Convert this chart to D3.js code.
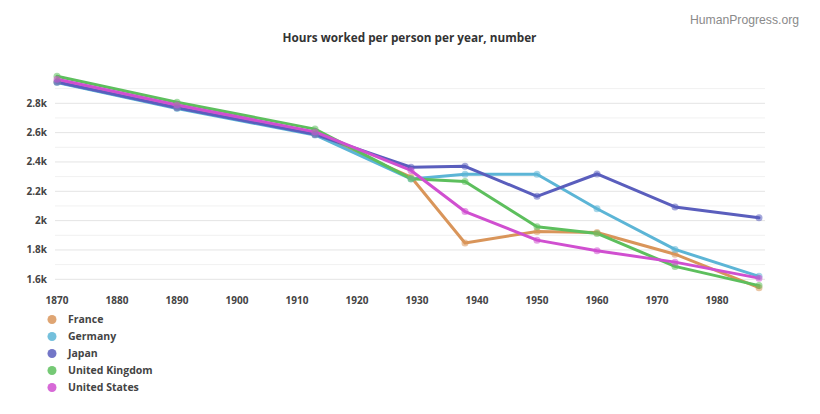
<!DOCTYPE html>
<html><head><meta charset="utf-8">
<script src="https://cdn.jsdelivr.net/npm/d3@7"></script>
<style>body{margin:0;background:#fff;font-family:"Open Sans",sans-serif;}</style>
</head><body>
<svg id="c" width="820" height="414"></svg>
<script>
const years = [1870, 1890, 1913, 1929, 1938, 1950, 1960, 1973, 1987];
const france = [2945, 2770, 2588, 2297, 1848, 1926, 1919, 1771, 1543];
const germany = [2941, 2765, 2584, 2284, 2316, 2316, 2081, 1804, 1620];
const japan = [2945, 2770, 2588, 2364, 2370, 2166, 2318, 2093, 2020];
const uk = [2984, 2807, 2624, 2286, 2267, 1958, 1913, 1688, 1557];
const us = [2964, 2789, 2605, 2342, 2062, 1867, 1795, 1717, 1608];
const seriesNames = ["France", "Germany", "Japan", "United Kingdom", "United States"];
const seriesColors = ["#d9955a", "#5cb5d6", "#5a5ebd", "#5dbf5d", "#d04fd0"];
const xTicks = [1870, 1880, 1890, 1900, 1910, 1920, 1930, 1940, 1950, 1960, 1970, 1980];
const yTicks = [1600, 1800, 2000, 2200, 2400, 2600, 2800];
const yMinor = [1700, 1900, 2100, 2300, 2500, 2700, 2900];
const title = "Hours worked per person per year, number";
const credit = "HumanProgress.org";

const svg = d3.select("#c");
const x = d3.scaleLinear().domain([1870, 1980]).range([57, 717]);
const y = d3.scaleLinear().domain([1600, 2800]).range([279.3, 103.3]);
const series = [france, germany, japan, uk, us].map((v, i) => ({name: seriesNames[i], color: seriesColors[i], values: v}));

// grid
svg.append("g").selectAll("line").data(yMinor).join("line")
  .attr("x1", 55).attr("x2", 765).attr("y1", d => y(d)).attr("y2", d => y(d))
  .attr("stroke", "#f1f1f1").attr("stroke-width", 1);
svg.append("g").selectAll("line").data(yTicks).join("line")
  .attr("x1", 55).attr("x2", 765).attr("y1", d => y(d)).attr("y2", d => y(d))
  .attr("stroke", "#e4e4e4").attr("stroke-width", 1);

// y labels
svg.append("g").selectAll("text").data(yTicks).join("text")
  .attr("x", 47).attr("y", d => y(d)).attr("dy", "0.35em").attr("text-anchor", "end")
  .attr("font-size", 10).attr("font-weight", 700).attr("fill", "#444")
  .text(d => d === 2000 ? "2k" : (d / 1000) + "k");

// x labels
svg.append("g").selectAll("text").data(xTicks).join("text")
  .attr("x", d => x(d)).attr("y", 300).attr("dy", "0.35em").attr("text-anchor", "middle")
  .attr("font-size", 10).attr("font-weight", 700).attr("fill", "#444")
  .text(d => d);

// lines
const line = d3.line().x((d, i) => x(years[i])).y(d => y(d));
const g = svg.append("g");
series.forEach(s => {
  g.append("path").datum(s.values).attr("d", line).attr("fill", "none")
    .attr("stroke", s.color).attr("stroke-width", 3).attr("stroke-linejoin", "round").attr("stroke-linecap", "round");
});
series.forEach(s => {
  g.append("g").selectAll("circle").data(s.values).join("circle")
    .attr("cx", (d, i) => x(years[i])).attr("cy", d => y(d)).attr("r", 3.5)
    .attr("fill", s.color).attr("fill-opacity", 0.55);
});

// title & credit
svg.append("text").attr("x", 409.5).attr("y", 37.5).attr("dy", "0.35em").attr("text-anchor", "middle")
  .attr("font-size", 11.75).attr("font-weight", 700).attr("fill", "#333").text(title);
svg.append("text").attr("x", 799).attr("y", 20).attr("dy", "0.35em").attr("text-anchor", "end")
  .attr("font-family", "Liberation Sans, Arial, sans-serif")
  .attr("font-size", 12.2).attr("fill", "#8a8a8a").text(credit);

// legend
const leg = svg.append("g").selectAll("g").data(series).join("g")
  .attr("transform", (d, i) => `translate(52,${319.5 + i * 17})`);
leg.append("circle").attr("r", 4.5).attr("fill", d => d.color).attr("fill-opacity", 0.85);
leg.append("text").attr("x", 16).attr("dy", "0.35em").attr("font-size", 10.5).attr("font-weight", 700)
  .attr("fill", "#444").text(d => d.name);
</script>
</body></html>
